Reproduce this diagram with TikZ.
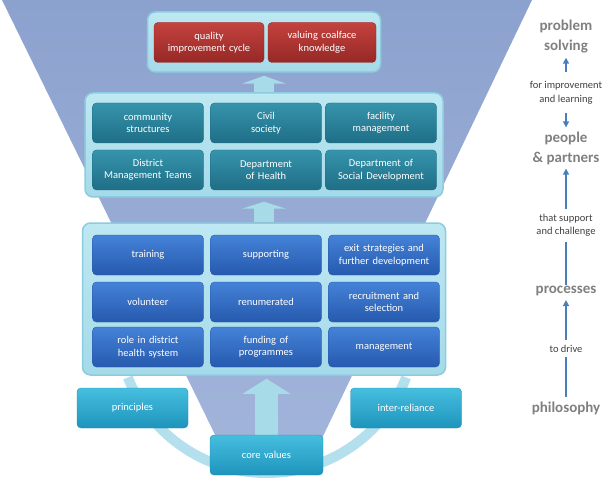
\documentclass[tikz,border=0pt]{standalone}
\usepackage{fontspec}
\setmainfont{Carlito}
\usetikzlibrary{arrows.meta}

\begin{document}
\begin{tikzpicture}[x=1pt, y=-1pt,
    box/.style={rounded corners=4pt, minimum width=111pt, minimum height=40pt,
        text width=108pt, align=center, inner sep=0pt, text=white,
        font=\fontsize{10.5}{12.5}\selectfont},
    redbox/.style={box, top color=redT, bottom color=redB, draw=redB},
    tealbox/.style={box, top color=tealT, bottom color=tealB, draw=tealB},
    bluebox/.style={box, top color=blueT, bottom color=blueB, draw=blueB},
    cyanbox/.style={box, top color=cyanT, bottom color=cyanB, draw=cyanB},
    holder/.style={rounded corners=8pt, draw=rimC, line width=1.5pt,
        top color=holdT, bottom color=holdB, inner sep=0pt},
    side/.style={align=center, inner sep=1pt, text=sideC,
        font=\fontsize{15}{20}\selectfont\bfseries},
    note/.style={fill=white, align=center, inner sep=4pt, text=black!75,
        font=\fontsize{10.5}{13.5}\selectfont},
    link/.style={draw=linkC, line width=1.6pt},
    >={Triangle[length=6pt, width=6pt]}]
        \definecolor{funT}{RGB}{140,162,206}
        \definecolor{funB}{RGB}{162,180,218}
        \definecolor{holdT}{RGB}{190,232,242}
        \definecolor{holdB}{RGB}{165,218,233}
        \definecolor{rimC}{RGB}{140,204,224}
        \definecolor{redT}{RGB}{196,66,62}
        \definecolor{redB}{RGB}{150,40,38}
        \definecolor{tealT}{RGB}{54,148,172}
        \definecolor{tealB}{RGB}{30,110,134}
        \definecolor{blueT}{RGB}{68,130,216}
        \definecolor{blueB}{RGB}{38,90,174}
        \definecolor{cyanT}{RGB}{70,190,222}
        \definecolor{cyanB}{RGB}{30,148,188}
        \definecolor{arrC}{RGB}{168,219,232}
        \definecolor{arcC}{RGB}{180,223,236}
        \definecolor{sideC}{RGB}{128,128,128}
        \definecolor{linkC}{RGB}{74,126,187}
        \useasboundingbox (0,0) rectangle (612,486);
        \shade[top color=funT, bottom color=funB] (2,0) -- (532,0) -- (314,455) -- (225,455) -- cycle;
        \draw[line width=10pt, arcC] (267,324) ++(159:149) arc[start angle=159, end angle=21, radius=149];

        % containers
        \node[holder, minimum width=233pt, minimum height=60pt] (topband) at (264,42) {};
        \node[holder, minimum width=358pt, minimum height=104pt] (midband) at (264,145) {};
        \node[holder, minimum width=363pt, minimum height=152pt] (lowband) at (264,299) {};

        \draw[line width=20pt, arrC, -{Triangle[length=8pt, width=44pt]}, shorten >=3pt] (midband.north) -- (topband.south);
        \draw[line width=20pt, arrC, -{Triangle[length=7pt, width=44pt]}, shorten >=4pt] (lowband.north) -- (midband.south);

        \node[redbox, minimum width=110pt] (cycle) at (209,42.5) {quality\\improvement cycle};
        \node[redbox, minimum width=108pt] (coalface) at (322,42.5) {valuing coalface\\knowledge};

        \node[tealbox] (community) at (148,123) {community\\structures};
        \node[tealbox] (civil) at (266,123) {Civil\\society};
        \node[tealbox] (facility) at (381,123) {facility\\management};
        \node[tealbox] (district) at (148,170) {District\\Management Teams};
        \node[tealbox] (health) at (266,170) {Department\\of Health};
        \node[tealbox] (social) at (381,170) {Department of\\Social Development};

        \node[bluebox] (training) at (148,255) {training};
        \node[bluebox] (supporting) at (266,255) {supporting};
        \node[bluebox] (exit) at (384,255) {exit strategies and\\further development};
        \node[bluebox] (volunteer) at (148,302) {volunteer};
        \node[bluebox] (renum) at (266,302) {renumerated};
        \node[bluebox] (recruit) at (384,302) {recruitment and\\selection};
        \node[bluebox] (role) at (148,347) {role in district\\health system};
        \node[bluebox] (funding) at (266,347) {funding of\\programmes};
        \node[bluebox] (manage) at (384,347) {management};

        \node[cyanbox] (principles) at (132.5,408) {principles};
        \node[cyanbox] (reliance) at (406,408) {inter-reliance};
        \coordinate (valtop) at (266.5,435);
        \draw[line width=23pt, arrC, -{Triangle[length=15pt, width=47pt]}, shorten >=3pt] (valtop) -- (lowband.south -| valtop);
        \node[cyanbox, minimum width=113pt] (values) at (266.5,455) {core values};

        % right column
        \node[side] (solving) at (566,37) {problem\\solving};
        \node[side] (people) at (566,148) {people\\\& partners};
        \node[side] (processes) at (566,291) {processes};
        \node[side] (philosophy) at (566,408) {philosophy};
        \draw[link, <->, shorten >=3pt, shorten <=3pt] (people) -- (solving) node[midway, note, inner ysep=9pt] (learning) {for improvement\\and learning};
        \draw[link, ->, shorten >=3pt] (processes) -- (people) node[midway, note, inner ysep=5pt] (challenge) {that support\\and challenge};
        \draw[link, ->, shorten >=3pt, shorten <=3pt] (philosophy) -- (processes) node[midway, note, inner ysep=5pt] (drive) {to drive};
    \end{tikzpicture}
\end{document}
